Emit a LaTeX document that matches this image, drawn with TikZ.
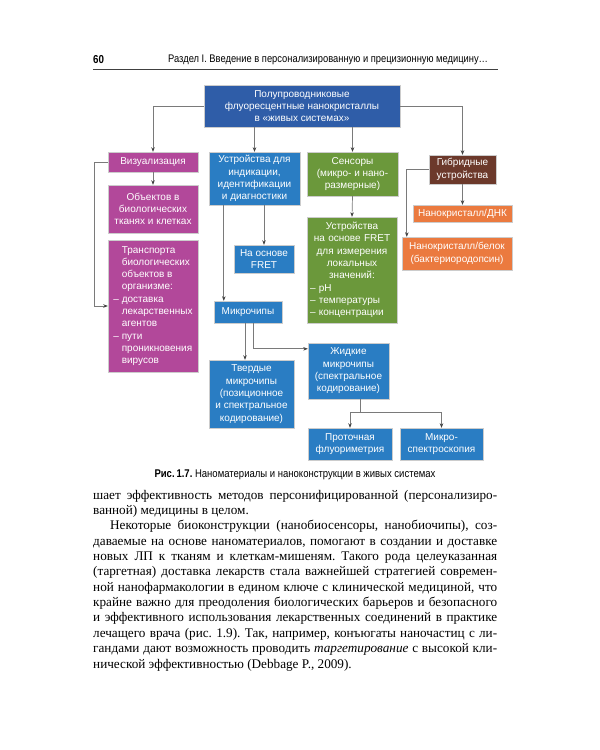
\documentclass[tikz,border=0pt]{standalone}
\usepackage{fontspec}
\setmainfont{Liberation Serif}
\newfontfamily\diagfont{Liberation Sans}
\newfontfamily\condfont[FakeStretch=0.85]{Liberation Sans}
\usetikzlibrary{arrows.meta}
\definecolor{topblue}{HTML}{2F5DA8}
\definecolor{boxblue}{HTML}{2A7DC3}
\definecolor{boxmag}{HTML}{B2489A}
\definecolor{boxgreen}{HTML}{6B983B}
\definecolor{boxbrown}{HTML}{6C392B}
\definecolor{boxorange}{HTML}{EB7A3F}
\definecolor{linegray}{HTML}{7A7A7A}
\frenchspacing
\begin{document}
\begin{tikzpicture}[x=1pt,y=-1pt,
  bx/.style 2 args={draw=black!20, line width=0.4pt, inner sep=0pt,
    minimum width=#1pt, minimum height=#2pt, text=white, align=center,
    font=\diagfont\fontsize{10}{12.3}\selectfont},
  conn/.style={draw=linegray, line width=0.7pt,
    -{Stealth[length=4.5pt,width=3.5pt,color=black!75]}},
  bodyline/.style={anchor=base west, inner sep=0pt, font=\fontsize{13.2}{15}\selectfont},
  headtext/.style={anchor=west, inner sep=0pt, font=\condfont\fontsize{11}{13}\selectfont},
]
\fill[white] (0,0) rectangle (600,750);
\useasboundingbox (0,0) rectangle (600,750);

% header
\node[headtext, font=\condfont\bfseries\fontsize{11.5}{13}\selectfont] (pagenum) at (93,60) {60};
\node[headtext] (header) at (168,60) {Раздел I. Введение в персонализированную и прецизионную медицину…};
\draw[black!75, line width=0.8pt] (93,69) -- (498,69);

% boxes
\node[bx={196}{42}, fill=topblue] (top) at (302,106) {Полупроводниковые\\флуоресцентные нанокристаллы\\в «живых системах»};
\node[bx={90}{20}, fill=boxmag] (viz) at (153,162) {Визуализация};
\node[bx={90}{48}, fill=boxmag] (obj) at (153,209) {Объектов в\\биологических\\тканях и клетках};
\node[bx={90}{132}, fill=boxmag, align=left] (trans) at (153,306) {\phantom{– }Транспорта\\\phantom{– }биологических\\\phantom{– }объектов в\\\phantom{– }организме:\\– доставка\\\phantom{– }лекарственных\\\phantom{– }агентов\\– пути\\\phantom{– }проникновения\\\phantom{– }вирусов};
\node[bx={91}{53}, fill=boxblue] (dev) at (254.5,178.5) {Устройства для\\индикации,\\идентификации\\и диагностики};
\node[bx={60}{28}, fill=boxblue] (fret) at (264,259) {На основе\\FRET};
\node[bx={68}{22}, fill=boxblue] (chips) at (248,312) {Микрочипы};
\node[bx={85}{68}, fill=boxblue] (solid) at (251.5,394) {Твердые\\микрочипы\\(позиционное\\и спектральное\\кодирование)};
\node[bx={81}{56}, fill=boxblue] (liquid) at (348.5,371) {Жидкие\\микрочипы\\(спектральное\\кодирование)};
\node[bx={84}{32}, fill=boxblue] (flow) at (350,444) {Проточная\\флуориметрия};
\node[bx={83}{32}, fill=boxblue] (spec) at (441.5,444) {Микро-\\спектроскопия};
\node[bx={91}{44}, fill=boxgreen] (sens) at (352.5,174) {Сенсоры\\(микро- и нано-\\размерные)};
\node[bx={90}{106}, fill=boxgreen, text width=84pt, align=left] (gfret) at (352,270) {{\centering Устройства\\на основе FRET\\для измерения\\локальных\\значений:\par}– pH\\– температуры\\– концентрации};
\node[bx={67}{29}, fill=boxbrown] (hyb) at (462.5,169.5) {Гибридные\\устройства};
\node[bx={99}{17}, fill=boxorange] (dna) at (462.5,213.5) {Нанокристалл/ДНК};
\node[bx={110}{33}, fill=boxorange] (prot) at (457,253.5) {Нанокристалл/белок\\(бактериородопсин)};

% helper coordinates
\coordinate (chipin) at ([xshift=10pt]chips.north west);
\coordinate (liqin) at ([yshift=-6pt]liquid.north west);
\coordinate (liqout) at ([xshift=11.5pt]liquid.south);
\coordinate (protin) at ([xshift=5pt]prot.north west);

% connectors
\draw[conn] (top.west) -| (viz.north);
\draw[conn] (top.south -| dev.north) -- (dev.north);
\draw[conn] (top.south -| sens.north) -- (sens.north);
\draw[conn] (top.east) -| (hyb.north);
\draw[conn] (viz.south) -- (obj.north);
\draw[conn] (viz.west) -- ++(-13,0) |- (trans.west);
\draw[conn] (chipin |- dev.south) -- (chipin);
\draw[conn] (dev.south -| fret.north) -- (fret.north);
\draw[conn] ([xshift=-3pt]chips.south) -- ([xshift=-3pt]chips.south |- solid.north);
\draw[conn] ([xshift=5pt]chips.south) |- (liqin);
\draw[conn] (liqout) -- ++(0,13) -| (flow.north);
\draw[conn] (liqout) -- ++(0,13) -| (spec.north);
\draw[conn] (sens.south) -- (gfret.north);
\draw[conn] (hyb.south) -- (dna.north);
\draw[conn] (hyb.west) -| (protin);

% caption
\node[inner sep=0pt, font=\condfont\fontsize{11.2}{12}\selectfont] (caption) at (295,475) {{\bfseries Рис.\,1.7.} Наноматериалы и наноконструкции в живых системах};

% body text
\node[bodyline] (b1) at (93,499) {\makebox[404pt][s]{шает эффективность методов персонифицированной (персонализиро-}};
\node[bodyline] (b2) at (93,514.4) {ванной) медицины в целом.};
\node[bodyline] (b3) at (93,529.7) {\makebox[404pt][s]{\hspace*{17pt}Некоторые биоконструкции (нанобиосенсоры, нанобиочипы), соз-}};
\node[bodyline] (b4) at (93,545.1) {\makebox[404pt][s]{даваемые на основе наноматериалов, помогают в создании и доставке}};
\node[bodyline] (b5) at (93,560.4) {\makebox[404pt][s]{новых ЛП к тканям и клеткам-мишеням. Такого рода целеуказанная}};
\node[bodyline] (b6) at (93,575.8) {\makebox[404pt][s]{(таргетная) доставка лекарств стала важнейшей стратегией современ-}};
\node[bodyline] (b7) at (93,591.2) {\makebox[404pt][s]{ной нанофармакологии в едином ключе с клинической медициной, что}};
\node[bodyline] (b8) at (93,606.5) {\makebox[404pt][s]{крайне важно для преодоления биологических барьеров и безопасного}};
\node[bodyline] (b9) at (93,621.9) {\makebox[404pt][s]{и эффективного использования лекарственных соединений в практике}};
\node[bodyline] (b10) at (93,637.2) {\makebox[404pt][s]{лечащего врача (рис. 1.9). Так, например, конъюгаты наночастиц с ли-}};
\node[bodyline] (b11) at (93,652.6) {\makebox[404pt][s]{гандами дают возможность проводить \textit{таргетирование} с высокой кли-}};
\node[bodyline] (b12) at (93,668) {нической эффективностью (Debbage P., 2009).};
\end{tikzpicture}
\end{document}
